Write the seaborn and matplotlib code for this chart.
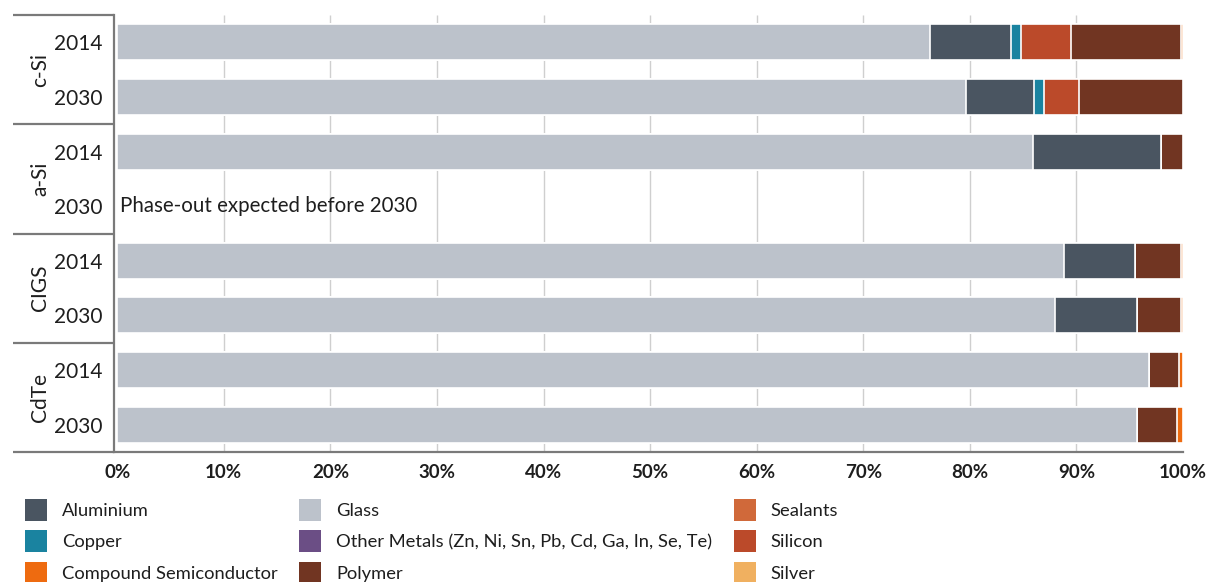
import matplotlib
matplotlib.use("Agg")
import matplotlib.pyplot as plt
import matplotlib.transforms as mtransforms
from matplotlib.patches import Patch
import numpy as np
import pandas as pd
import seaborn as sns

technologies = ["c-Si", "a-Si", "CIGS", "CdTe"]
years = ["2014", "2030"]
rows = [f"{t} {y}" for t in technologies for y in years]

# share of panel mass in %, one value per row (c-Si 2014 ... CdTe 2030)
glass = [76.3, 79.6, 85.9, 0, 88.8, 88.0, 96.8, 95.7]
aluminium = [7.6, 6.4, 12.0, 0, 6.7, 7.7, 0, 0]
copper = [0.9, 1.0, 0, 0, 0, 0, 0, 0]
silicon = [4.7, 3.2, 0, 0, 0, 0, 0, 0]
polymer = [10.3, 9.8, 2.1, 0, 4.3, 4.1, 2.8, 3.7]
compound = [0.2, 0, 0, 0, 0.2, 0.2, 0.4, 0.6]

materials = ["Aluminium", "Copper", "Compound Semiconductor", "Glass",
             "Other Metals (Zn, Ni, Sn, Pb, Cd, Ga, In, Se, Te)", "Polymer",
             "Sealants", "Silicon", "Silver"]
colors = {
    "Aluminium": "#4a5561",
    "Copper": "#1a83a0",
    "Compound Semiconductor": "#ee6b10",
    "Glass": "#bcc2cb",
    "Other Metals (Zn, Ni, Sn, Pb, Cd, Ga, In, Se, Te)": "#6b4e85",
    "Polymer": "#713522",
    "Sealants": "#d0693a",
    "Silicon": "#bb4a2a",
    "Silver": "#f0b060",
}

stack = [("Glass", glass), ("Aluminium", aluminium), ("Copper", copper),
         ("Silicon", silicon), ("Polymer", polymer),
         ("Compound Semiconductor", compound)]

sns.set_style("white")
plt.rcParams["font.family"] = ["Lato", "DejaVu Sans"]
text_col = "#1e1e1e"
line_col = "#7a7a7a"

W, H = 1208, 582
fig = plt.figure(figsize=(W / 100, H / 100), dpi=100)
ax = fig.add_axes([114 / W, 1 - 452 / H, (1183 - 114) / W, (452 - 15) / H])

cum = np.cumsum(np.array([v for _, v in stack], dtype=float), axis=0)
# layered bars: draw the longest cumulative first so shorter ones sit on top
for (name, _), c in reversed(list(zip(stack, cum))):
    df = pd.DataFrame({"row": rows, "value": c})
    sns.barplot(data=df, x="value", y="row", orient="h", color=colors[name],
                width=0.66, edgecolor="white", linewidth=1.2, errorbar=None,
                saturation=1, ax=ax, zorder=2)

ax.vlines(np.arange(10, 100, 10), -0.5, 7.5, color="#cfcfcf", lw=1, zorder=0)

ax.set_xlim(-0.3, 100)
ax.set_ylim(7.5, -0.5)
ax.set_xlabel("")
ax.set_ylabel("")

for s in ["top", "right"]:
    ax.spines[s].set_visible(False)
for s in ["left", "bottom"]:
    ax.spines[s].set_color(line_col)
    ax.spines[s].set_linewidth(1.6)

ax.set_xticks(np.arange(0, 101, 10))
ax.set_xticklabels([f"{v}%" for v in range(0, 101, 10)], fontsize=13.5,
                   fontweight="bold", color=text_col)
ax.tick_params(axis="x", length=0, pad=9)
ax.set_xticks([92.8], minor=True)
ax.tick_params(axis="x", which="minor", length=6, width=1.6, color=line_col)

ax.set_yticks(range(len(rows)))
ax.set_yticklabels(years * len(technologies), fontsize=15, color=text_col)
ax.tick_params(axis="y", length=0, pad=8)

trans = mtransforms.blended_transform_factory(ax.transAxes, ax.transData)
x_left = (13 - 114) / (1183 - 114)
for i, t in enumerate(technologies):
    ax.text((40 - 114) / (1183 - 114), 2 * i + 0.5, t, rotation=90,
            ha="center", va="center", fontsize=15, color=text_col,
            transform=trans)
for yb in [-0.5, 1.5, 3.5, 5.5, 7.5]:
    ax.plot([x_left, 0], [yb, yb], color=line_col, lw=1.6,
            transform=trans, clip_on=False, solid_capstyle="butt")

ax.text(0.3, 3, "Phase-out expected before 2030", ha="left", va="center",
        fontsize=14.8, color=text_col)

handles = [Patch(facecolor=colors[m], edgecolor="none", label=m) for m in materials]
fig.legend(handles=handles, ncol=3, loc="upper left",
           bbox_to_anchor=(25 / W, 1 - 499 / H), frameon=False, fontsize=13.2,
           handlelength=1.2, handleheight=1.45, handletextpad=0.8,
           labelspacing=0.52, columnspacing=1.2, borderpad=0, borderaxespad=0,
           labelcolor=text_col)

fig.savefig("out.png", dpi=100)
